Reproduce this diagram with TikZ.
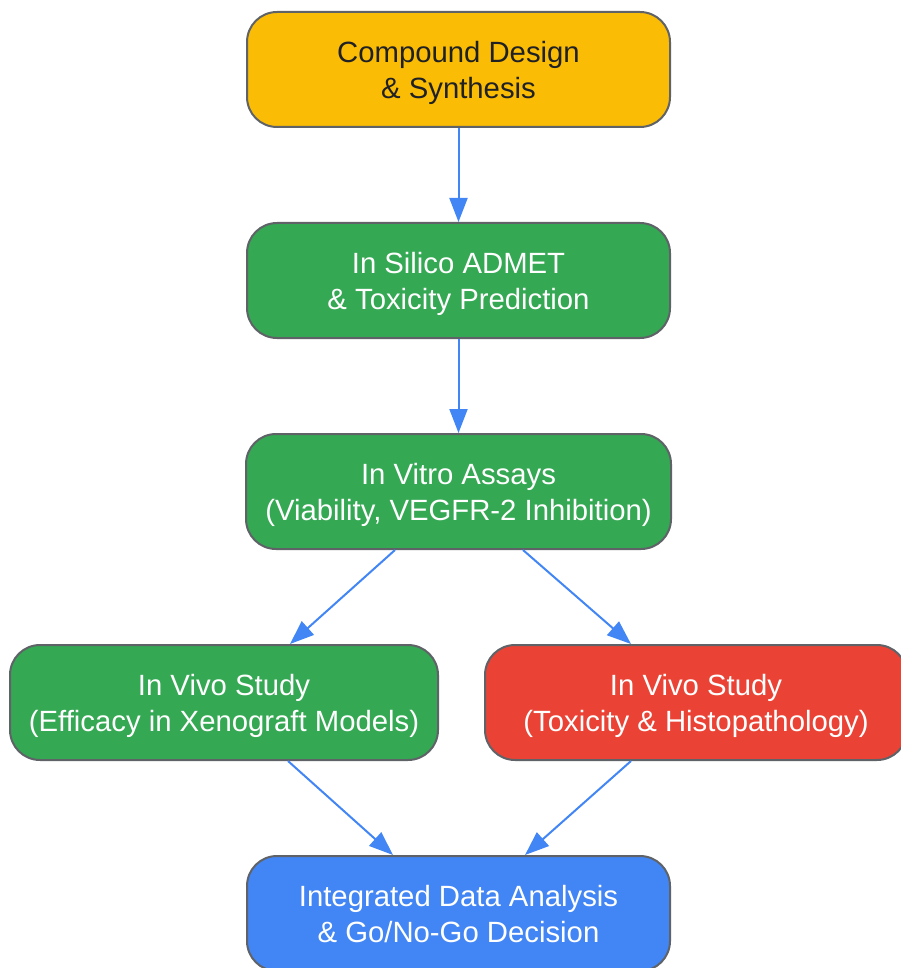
\documentclass[tikz,border=0pt]{standalone}
\usepackage{fontspec}
\setmainfont{Liberation Sans}
\usetikzlibrary{arrows.meta}
\definecolor{gyellow}{HTML}{FBBC05}
\definecolor{ggreen}{HTML}{34A853}
\definecolor{gred}{HTML}{EA4335}
\definecolor{gblue}{HTML}{4285F4}
\definecolor{gborder}{HTML}{5F6368}
\definecolor{gtext}{HTML}{202124}
\begin{document}
\begin{tikzpicture}[x=1pt,y=-1pt,
  box/.style={draw=gborder, line width=2pt, rounded corners=30pt, minimum height=115pt, inner sep=0pt},
  txt/.style={align=center, inner sep=0pt, font=\fontsize{29.3pt}{36pt}\selectfont, text=white, yshift=-3.5pt,
    execute at end node=\vphantom{y(}},
  conn/.style={draw=gblue, line width=2pt, -{Triangle[length=24pt,width=18pt]}}]
\useasboundingbox (0,0) rectangle (901,968);
\node[box, fill=gyellow, minimum width=423pt, label={[txt, text=gtext]center:{Compound Design\\\& Synthesis}}] (n1) at (458.5,69.5) {};
\node[box, fill=ggreen, minimum width=423pt, label={[txt]center:{In Silico ADMET\\\& Toxicity Prediction}}] (n2) at (458.5,280.5) {};
\node[box, fill=ggreen, minimum width=425pt, label={[txt]center:{In Vitro Assays\\(Viability, VEGFR-2 Inhibition)}}] (n3) at (458.5,491.5) {};
\node[box, fill=ggreen, minimum width=428pt, label={[txt]center:{In Vivo Study\\(Efficacy in Xenograft Models)}}] (n4) at (224,702.5) {};
\node[box, fill=gred, minimum width=422pt, label={[txt]center:{In Vivo Study\\(Toxicity \& Histopathology)}}] (n5) at (696,702.5) {};
\node[box, fill=gblue, minimum width=423pt, label={[txt]center:{Integrated Data Analysis\\\& Go/No-Go Decision}}] (n6) at (458.5,913.5) {};
\draw[conn] (n1.south) -- (n2.north);
\draw[conn] (n2.south) -- (n3.north);
\draw[conn] ([xshift=-63.5pt]n3.south) -- ([xshift=66pt]n4.north);
\draw[conn] ([xshift=64.5pt]n3.south) -- ([xshift=-65pt]n5.north);
\draw[conn] ([xshift=64pt]n4.south) -- ([xshift=-65.5pt]n6.north);
\draw[conn] ([xshift=-65pt]n5.south) -- ([xshift=66.5pt]n6.north);
\end{tikzpicture}
\end{document}
